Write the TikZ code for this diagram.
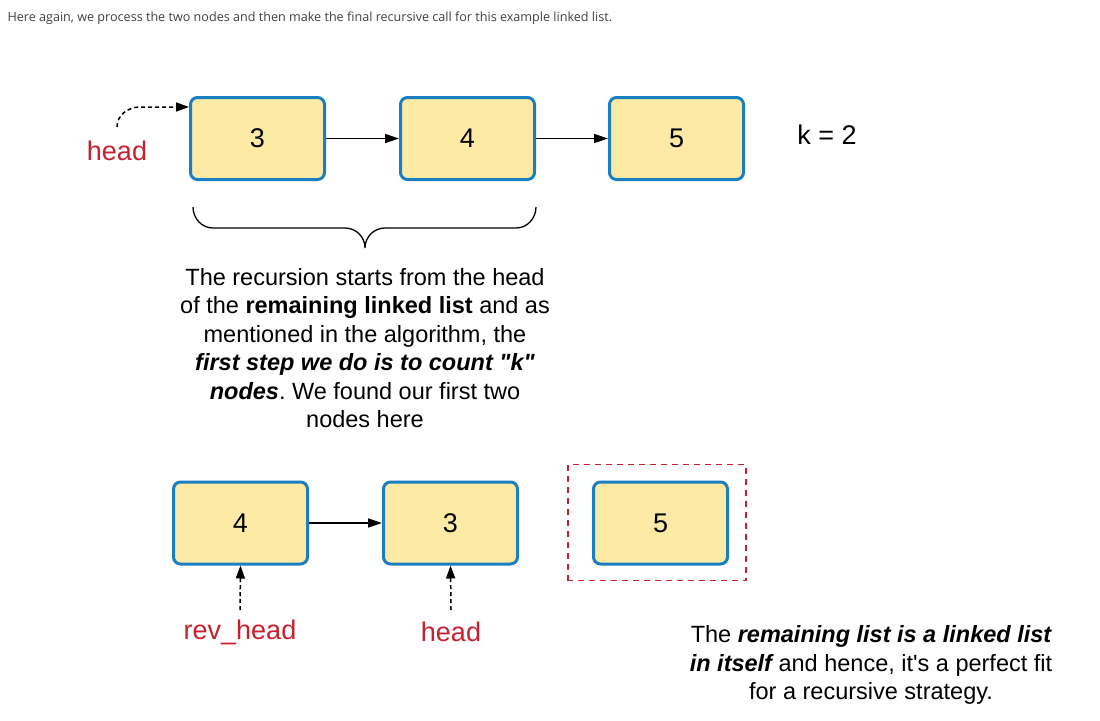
\documentclass[tikz,border=0pt]{standalone}
\usepackage{fontspec}
\newfontfamily\labelfont{Liberation Sans}
\newfontfamily\notefont{Open Sans}
\usetikzlibrary{arrows.meta,calc}
\definecolor{boxblue}{RGB}{26,127,193}
\definecolor{boxfill}{RGB}{253,235,165}
\definecolor{ptrred}{RGB}{200,32,47}
\frenchspacing
\tikzset{
  listnode/.style={draw=boxblue,line width=3pt,fill=boxfill,rounded corners=7pt,
    minimum width=134pt,minimum height=82pt,font=\labelfont\fontsize{27}{30}\selectfont},
  link/.style={line width=1.5pt,-{Triangle[length=14pt,width=9pt]}},
  ptr/.style={line width=1.5pt,dash pattern=on 4pt off 3pt,-{Triangle[length=13pt,width=9pt]}},
  ptrlabel/.style={text=ptrred,font=\labelfont\fontsize{27}{30}\selectfont},
  remark/.style={align=center,font=\labelfont\fontsize{23.5}{28.5}\selectfont}
}
\begin{document}
\begin{tikzpicture}[x=1pt,y=1pt]
\useasboundingbox[fill=white] (0,0) rectangle (1100,-720);
\node[anchor=west,font=\notefont\fontsize{12.6}{14}\selectfont,text=black!75] (intro) at (4,-18)
  {Here again, we process the two nodes and then make the final recursive call for this example linked list.};
%% first list
\node[listnode] (a3) at (257.5,-138.5) {3};
\node[listnode] (a4) at (467.5,-138.5) {4};
\node[listnode] (a5) at (676.5,-138.5) {5};
\draw[link] (a3) -- (a4);
\draw[link] (a4) -- (a5);
\node[font=\labelfont\fontsize{27}{30}\selectfont] (k) at (827,-135) {k = 2};
\node[ptrlabel] (ahead) at (117,-151) {head};
\draw[ptr] (117,-127) to[out=90,in=180] (140,-107) -- (a3.west |- 0,-107);
%% brace
\draw[line width=1.3pt] (193,-207) to[out=-90,in=180] (213,-228) -- (345,-228)
  to[out=0,in=90] (365,-248) to[out=90,in=180] (385,-228) -- (516,-228) to[out=0,in=-90] (536,-207);
\node[remark] (note1) at (365,-348) {The recursion starts from the head\\
  of the \textbf{remaining linked list} and as\\
  mentioned in the algorithm, the\\
  {\bfseries\itshape first step we do is to count "k"}\\
  {\bfseries\itshape nodes}. We found our first two\\
  nodes here};
%% reversed part
\node[listnode] (b4) at (240.5,-523) {4};
\node[listnode] (b3) at (450.5,-523) {3};
\node[listnode] (b5) at (660.5,-523) {5};
\draw[link] (b4) -- (b3);
\draw[draw=ptrred,line width=1.3pt,dash pattern=on 6pt off 5pt]
  ($(b5.south west)+(-24,-15)$) rectangle ($(b5.north east)+(17,16)$);
\node[ptrlabel] (revhead) at (240,-632) {rev\_head};
\node[ptrlabel] (bhead) at (451,-632) {head};
\draw[ptr] (revhead.north |- 0,-610) -- (b4.south);
\draw[ptr] (bhead.north |- 0,-610) -- (b3.south);
\node[remark] (note2) at (871,-665) {The {\bfseries\itshape remaining list is a linked list}\\
  {\bfseries\itshape in itself} and hence, it's a perfect fit\\
  for a recursive strategy.};
\end{tikzpicture}
\end{document}
